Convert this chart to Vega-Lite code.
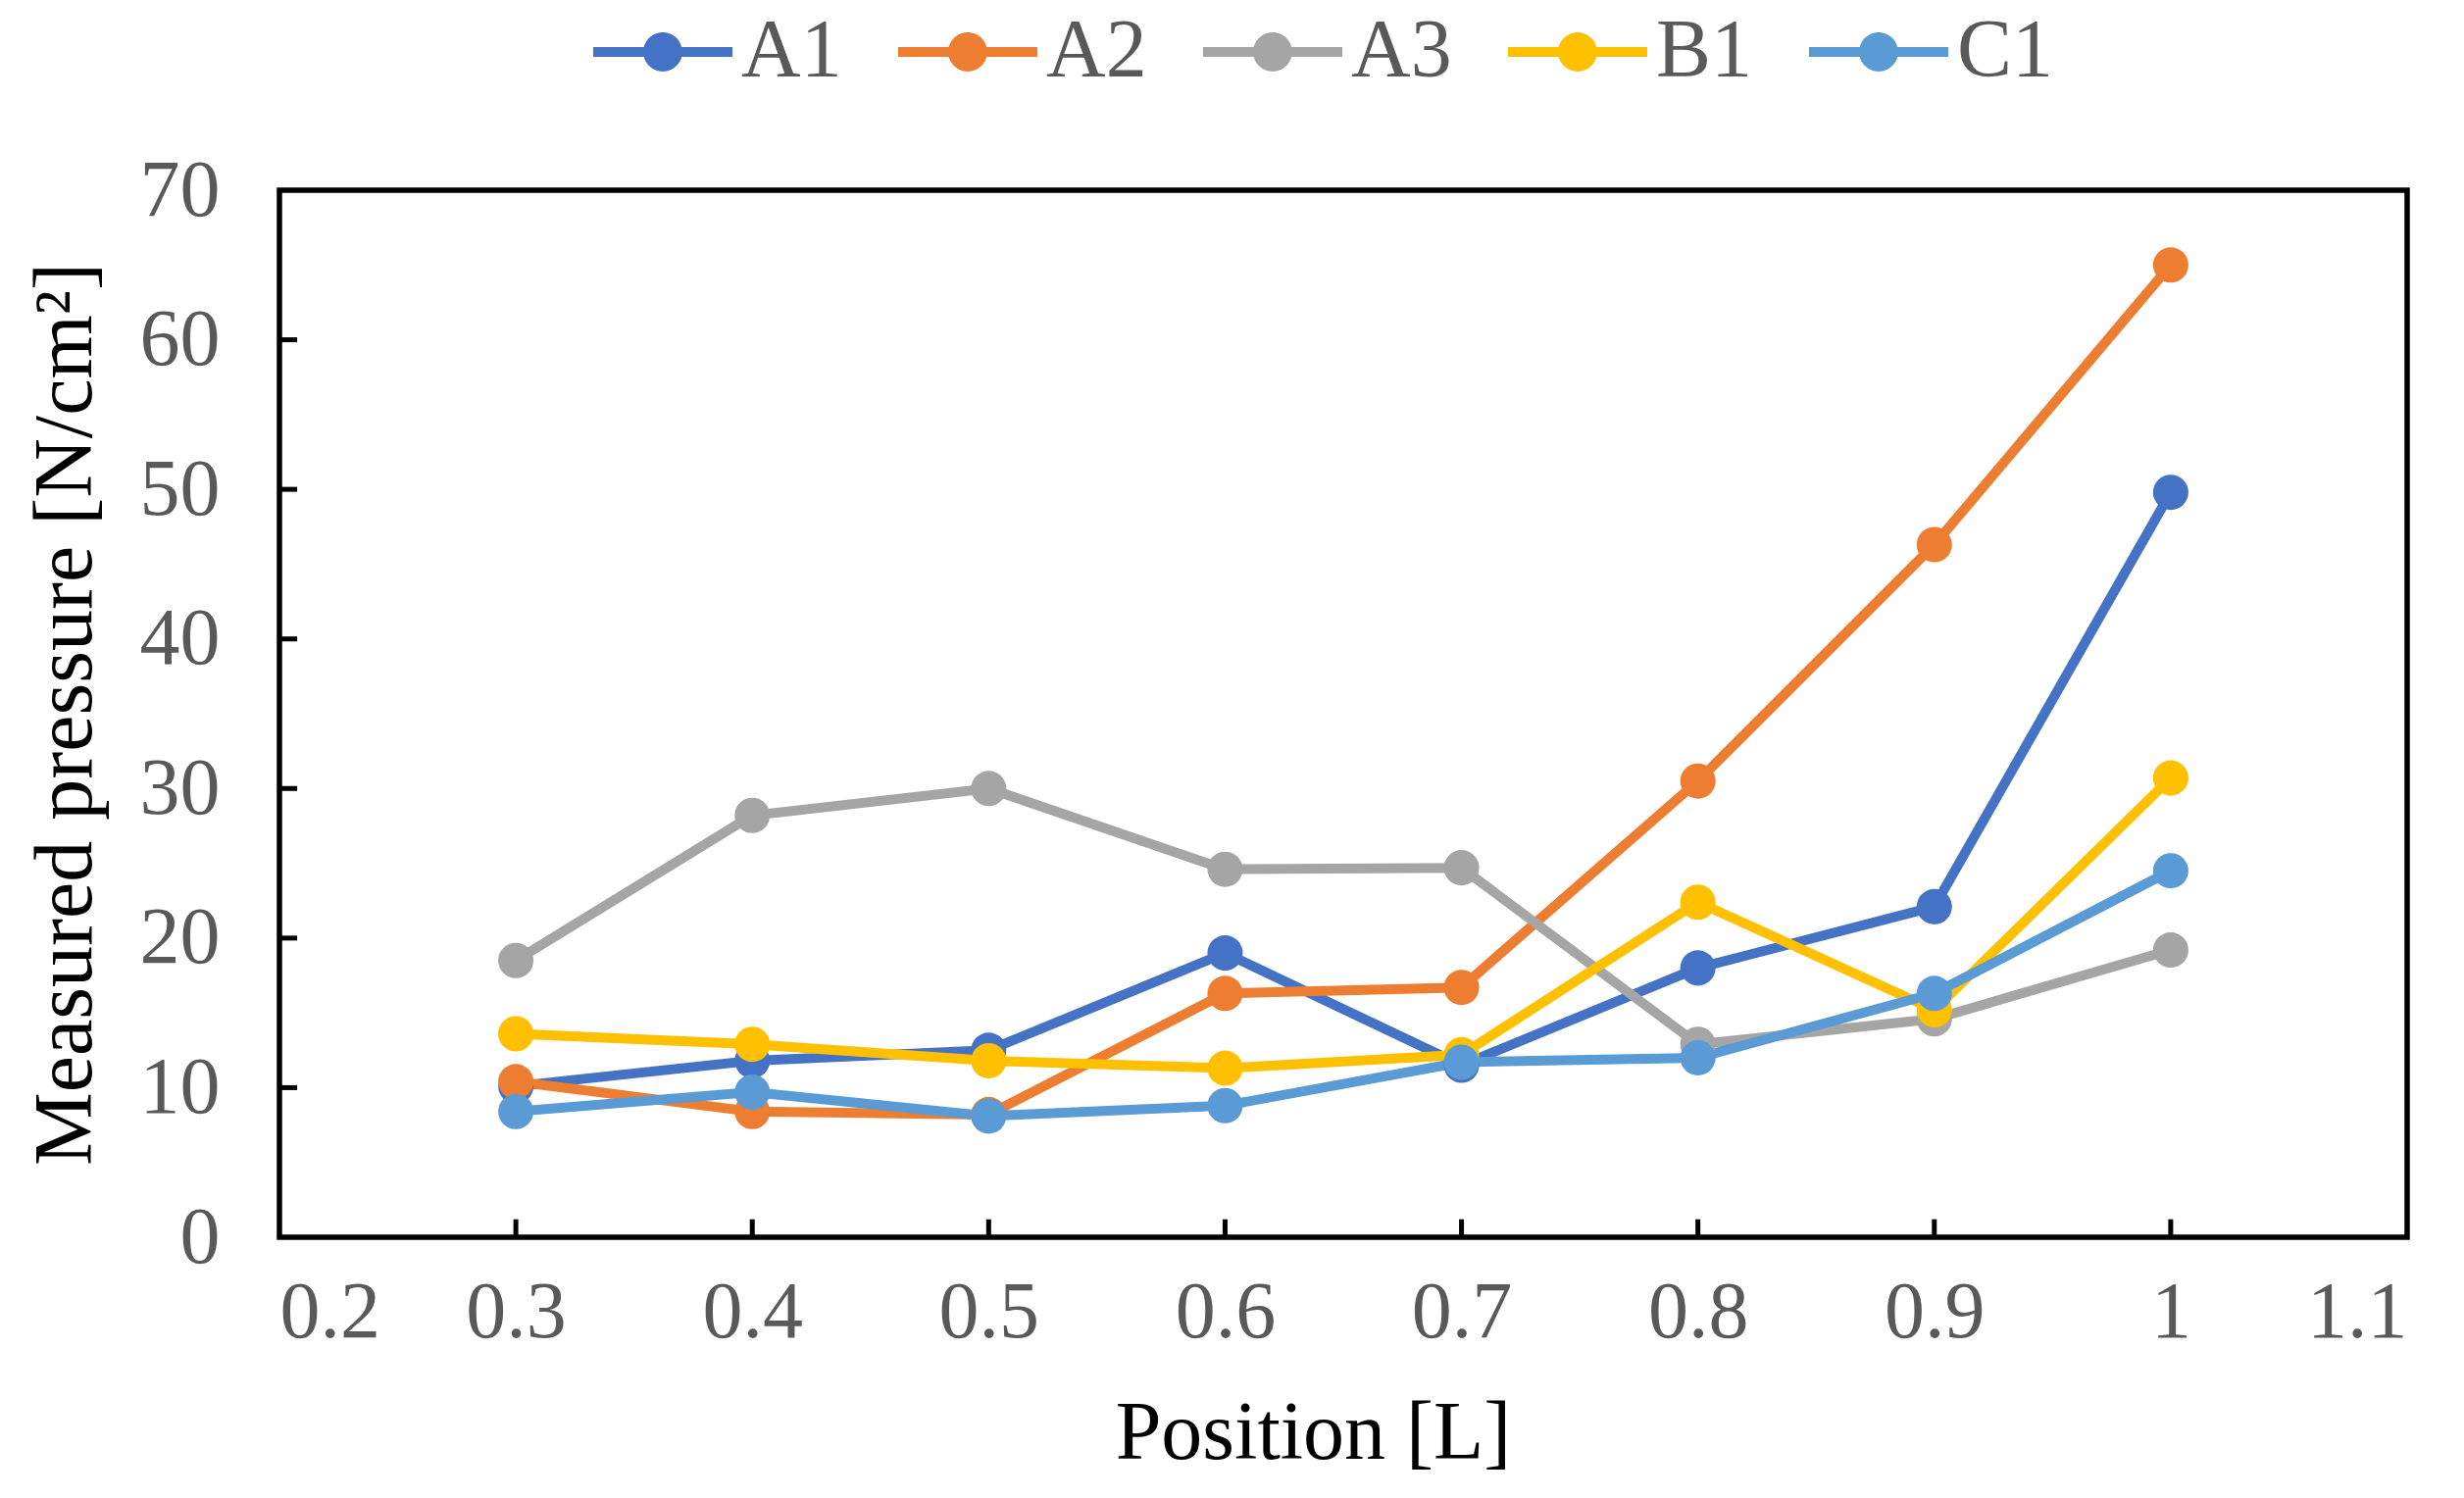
{
  "$schema": "https://vega.github.io/schema/vega-lite/v6.json",
  "width": 2170,
  "height": 1068,
  "autosize": "none",
  "padding": {"left": 285, "top": 194, "right": 58, "bottom": 266},
  "background": "white",
  "config": {
    "font": "Liberation Serif",
    "view": {"stroke": "black", "strokeWidth": 5.5}
  },
  "datasets": {
    "pressure": [
      {"series": "A1", "position": 0.3, "pressure": 10.1},
      {"series": "A1", "position": 0.4, "pressure": 11.8},
      {"series": "A1", "position": 0.5, "pressure": 12.5},
      {"series": "A1", "position": 0.6, "pressure": 19.0},
      {"series": "A1", "position": 0.7, "pressure": 11.5},
      {"series": "A1", "position": 0.8, "pressure": 18.0},
      {"series": "A1", "position": 0.9, "pressure": 22.1},
      {"series": "A1", "position": 1.0, "pressure": 49.8},
      {"series": "A2", "position": 0.3, "pressure": 10.4},
      {"series": "A2", "position": 0.4, "pressure": 8.4},
      {"series": "A2", "position": 0.5, "pressure": 8.2},
      {"series": "A2", "position": 0.6, "pressure": 16.3},
      {"series": "A2", "position": 0.7, "pressure": 16.7},
      {"series": "A2", "position": 0.8, "pressure": 30.5},
      {"series": "A2", "position": 0.9, "pressure": 46.3},
      {"series": "A2", "position": 1.0, "pressure": 65.0},
      {"series": "A3", "position": 0.3, "pressure": 18.5},
      {"series": "A3", "position": 0.4, "pressure": 28.2},
      {"series": "A3", "position": 0.5, "pressure": 30.0},
      {"series": "A3", "position": 0.6, "pressure": 24.6},
      {"series": "A3", "position": 0.7, "pressure": 24.7},
      {"series": "A3", "position": 0.8, "pressure": 12.9},
      {"series": "A3", "position": 0.9, "pressure": 14.6},
      {"series": "A3", "position": 1.0, "pressure": 19.2},
      {"series": "B1", "position": 0.3, "pressure": 13.6},
      {"series": "B1", "position": 0.4, "pressure": 12.9},
      {"series": "B1", "position": 0.5, "pressure": 11.8},
      {"series": "B1", "position": 0.6, "pressure": 11.3},
      {"series": "B1", "position": 0.7, "pressure": 12.2},
      {"series": "B1", "position": 0.8, "pressure": 22.4},
      {"series": "B1", "position": 0.9, "pressure": 15.2},
      {"series": "B1", "position": 1.0, "pressure": 30.7},
      {"series": "C1", "position": 0.3, "pressure": 8.4},
      {"series": "C1", "position": 0.4, "pressure": 9.7},
      {"series": "C1", "position": 0.5, "pressure": 8.1},
      {"series": "C1", "position": 0.6, "pressure": 8.8},
      {"series": "C1", "position": 0.7, "pressure": 11.7},
      {"series": "C1", "position": 0.8, "pressure": 12.0},
      {"series": "C1", "position": 0.9, "pressure": 16.3},
      {"series": "C1", "position": 1.0, "pressure": 24.5}
    ],
    "xticks": [
      {"position": 0.3}, {"position": 0.4}, {"position": 0.5}, {"position": 0.6},
      {"position": 0.7}, {"position": 0.8}, {"position": 0.9}, {"position": 1.0}
    ],
    "yticks": [
      {"pressure": 10}, {"pressure": 20}, {"pressure": 30},
      {"pressure": 40}, {"pressure": 50}, {"pressure": 60}
    ]
  },
  "layer": [
    {
      "data": {"name": "pressure"},
      "mark": {
        "type": "line",
        "strokeWidth": 10,
        "point": {"filled": true, "size": 1300, "opacity": 1}
      },
      "encoding": {
        "x": {
          "field": "position",
          "type": "quantitative",
          "scale": {"domain": [0.2, 1.1], "nice": false, "zero": false},
          "axis": {
            "values": [0.2, 0.3, 0.4, 0.5, 0.6, 0.7, 0.8, 0.9, 1.0, 1.1],
            "format": "~g",
            "domain": false,
            "grid": false,
            "ticks": false,
            "labelFontSize": 82,
            "labelColor": "#595959",
            "labelPadding": 36,
            "title": "Position [L]",
            "titleFontSize": 84,
            "titleFontWeight": "normal",
            "titleColor": "black",
            "titlePadding": 42,
            "titleX": 1054
          }
        },
        "y": {
          "field": "pressure",
          "type": "quantitative",
          "scale": {"domain": [0, 70], "nice": false},
          "axis": {
            "values": [0, 10, 20, 30, 40, 50, 60, 70],
            "domain": false,
            "grid": false,
            "ticks": false,
            "labelFontSize": 82,
            "labelColor": "#595959",
            "labelPadding": 61,
            "title": "Measured pressure [N/cm²]",
            "titleFontSize": 84,
            "titleFontWeight": "normal",
            "titleColor": "black",
            "titlePadding": 32
          }
        },
        "color": {
          "field": "series",
          "type": "nominal",
          "scale": {
            "domain": ["A1", "A2", "A3", "B1", "C1"],
            "range": ["#4472C4", "#ED7D31", "#A5A5A5", "#FFC000", "#5B9BD5"]
          },
          "legend": {
            "orient": "none",
            "legendX": 320,
            "legendY": -212,
            "direction": "horizontal",
            "title": null,
            "symbolType": "M-1,-0.07H1V0.07H-1Z M0.28,0A0.28,0.28 0 1,1 -0.28,0A0.28,0.28 0 1,1 0.28,0Z",
            "symbolSize": 20164,
            "symbolStrokeWidth": 0,
            "labelFontSize": 84,
            "labelColor": "#595959",
            "labelOffset": 9,
            "columnPadding": 57,
            "encode": {
              "symbols": {
                "update": {
                  "fill": {"scale": "color", "field": "value"},
                  "opacity": {"value": 1}
                }
              }
            }
          }
        }
      }
    },
    {
      "data": {"name": "xticks"},
      "mark": {"type": "rule", "color": "black", "strokeWidth": 5},
      "encoding": {
        "x": {"field": "position", "type": "quantitative"},
        "y": {"datum": 0, "type": "quantitative"},
        "y2": {"datum": 1.2}
      }
    },
    {
      "data": {"name": "yticks"},
      "mark": {"type": "rule", "color": "black", "strokeWidth": 5},
      "encoding": {
        "y": {"field": "pressure", "type": "quantitative"},
        "x": {"datum": 0.2, "type": "quantitative"},
        "x2": {"datum": 0.2075}
      }
    }
  ]
}
